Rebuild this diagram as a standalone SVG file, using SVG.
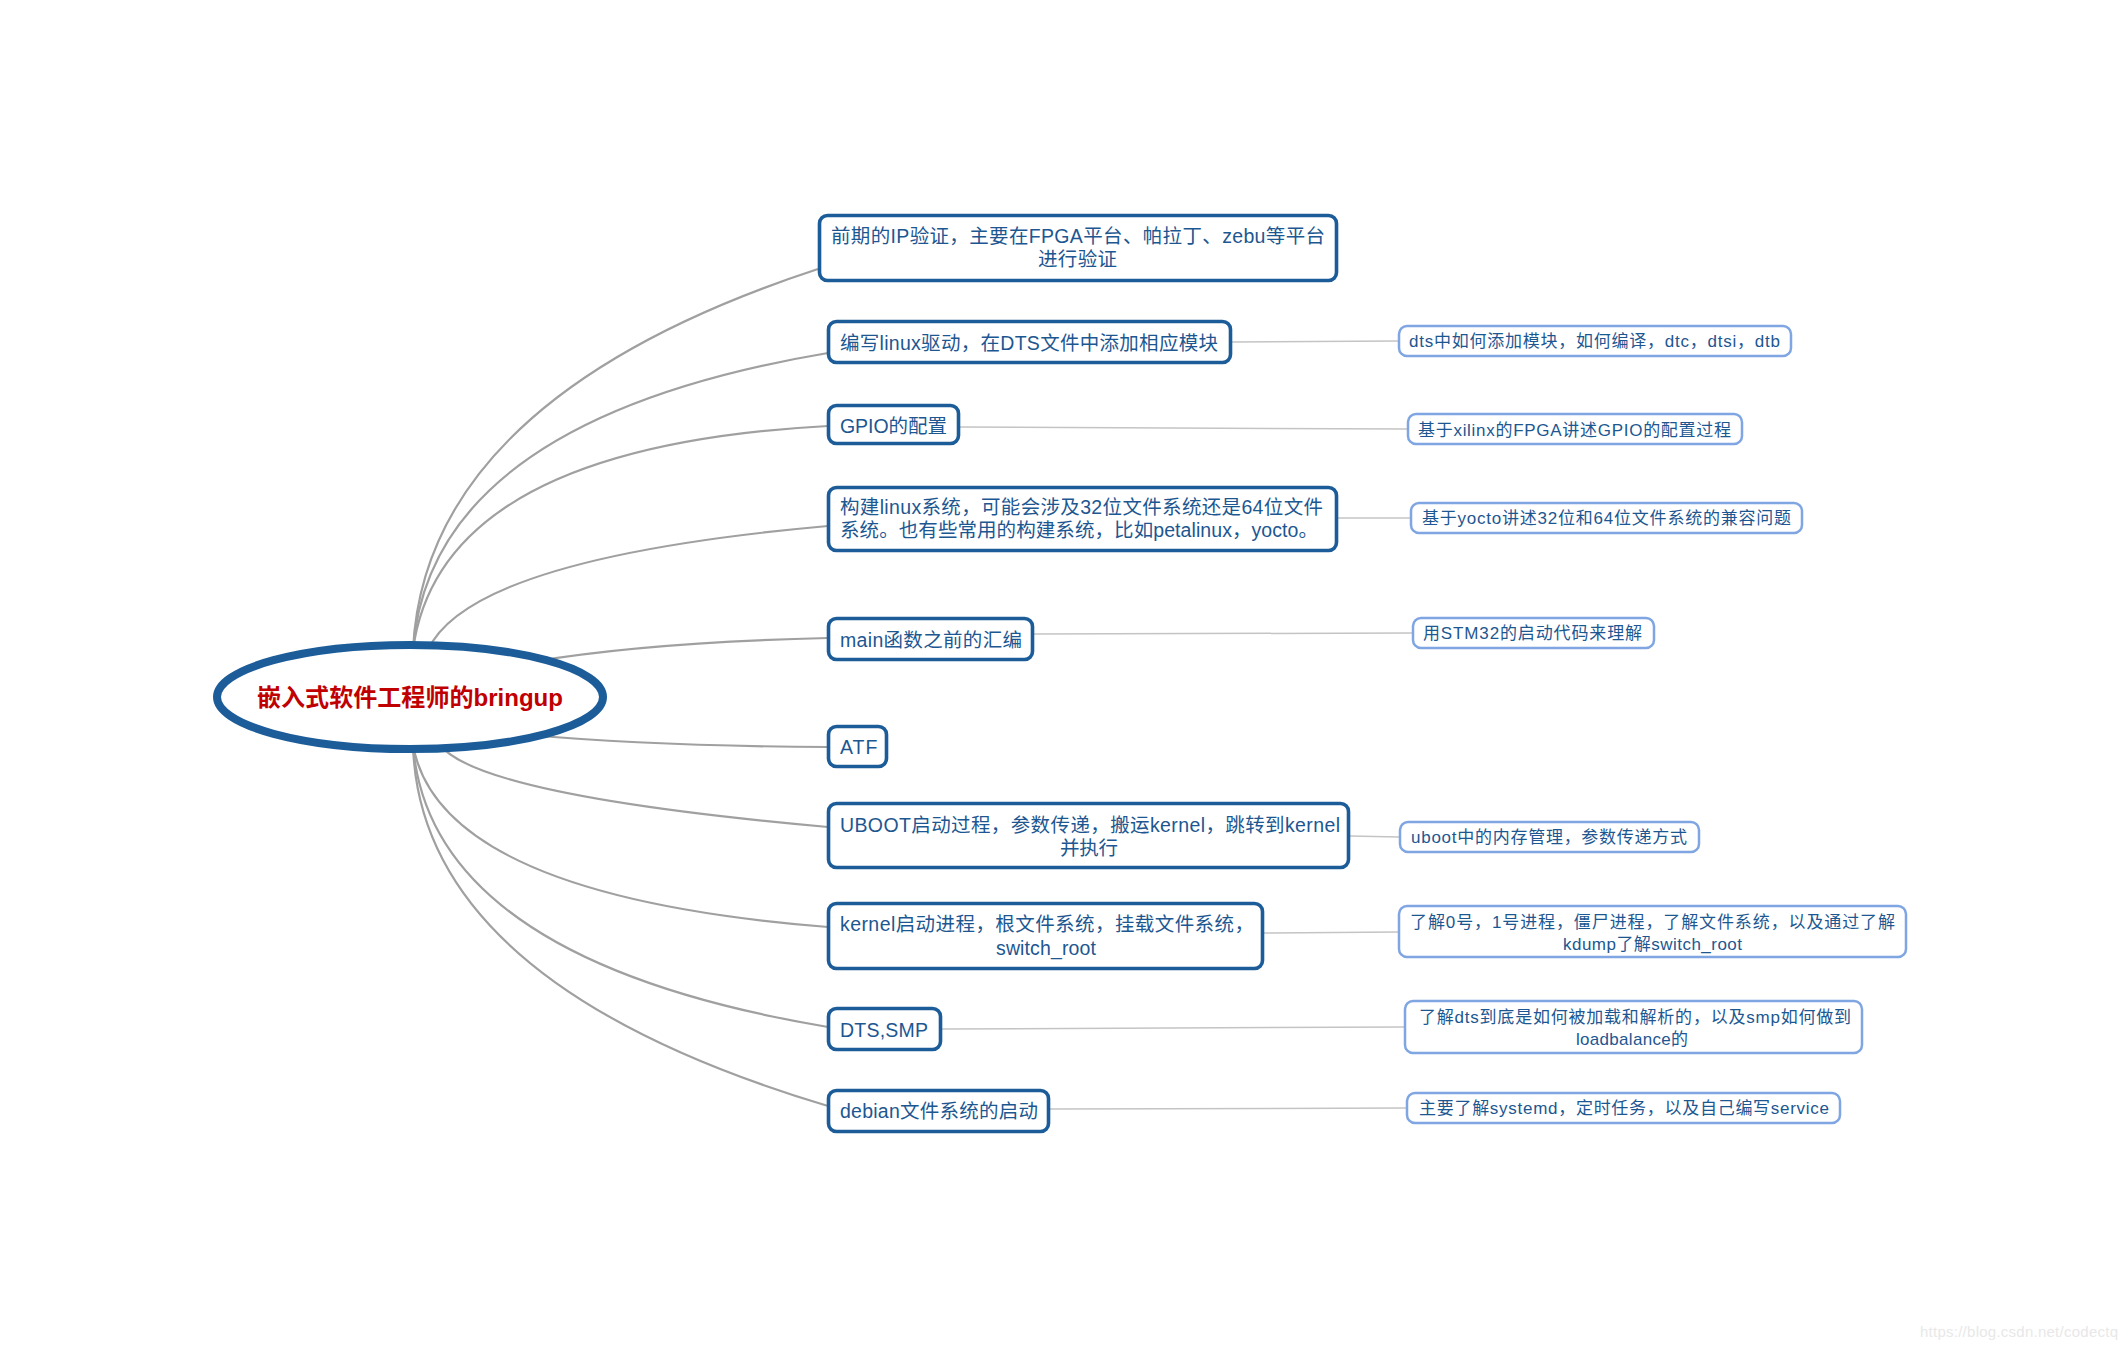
<svg xmlns="http://www.w3.org/2000/svg" width="2128" height="1350" viewBox="0 0 2128 1350">
<style>
.main{fill:#fff;stroke:#1c5d99;stroke-width:3.6}
.sub{fill:#fff;stroke:#7fa5e2;stroke-width:2.5}
.t{font-family:"Liberation Sans","Noto Sans CJK SC",sans-serif;font-size:19.5px;fill:#1d5791}
.s{font-family:"Liberation Sans","Noto Sans CJK SC",sans-serif;font-size:17px;fill:#1d5791}
.c{fill:none;stroke:#a0a0a0;stroke-width:2.2}
.l{fill:none;stroke:#c4c4c4;stroke-width:1.5}
</style>
<rect width="2128" height="1350" fill="#fff"/>
<g id="connectors">
<path class="c" d="M413,650 Q425,398 818,269"/>
<path class="c" d="M413,650 Q430,420 828,353"/>
<path class="c" d="M413,650 Q440,447 828,426"/>
<path class="c" d="M428,650 Q470,558 828,526"/>
<path class="c" d="M530,662 Q650,642 828,638"/>
<path class="c" d="M530,735 Q650,746 828,747"/>
<path class="c" d="M440,745 Q480,796 828,827"/>
<path class="c" d="M413,745 Q440,896 828,927"/>
<path class="c" d="M413,745 Q430,960 828,1027"/>
<path class="c" d="M413,745 Q420,984 828,1106"/>
<path class="l" d="M1232,342 L1398,341"/>
<path class="l" d="M960,427 L1407,429"/>
<path class="l" d="M1338,518 L1410,518"/>
<path class="l" d="M1034,634 L1412,633"/>
<path class="l" d="M1350,836 L1399,837"/>
<path class="l" d="M1264,933 L1398,932"/>
<path class="l" d="M941,1029 L1405,1027"/>
<path class="l" d="M1050,1109 L1407,1108"/>
</g>
<g id="root">
<ellipse cx="410" cy="697" rx="193" ry="52" fill="#fff" stroke="#1c5d99" stroke-width="8"/>
<text x="257" y="706" textLength="306" lengthAdjust="spacingAndGlyphs" style="font-family:'Liberation Sans','Noto Sans CJK SC',sans-serif;font-size:24px;font-weight:bold;fill:#c00000">嵌入式软件工程师的bringup</text>
</g>
<g id="n1"><rect class="main" x="819.5" y="215.5" width="517" height="65" rx="8"/>
<text class="t" x="831" y="243" textLength="494">前期的IP验证，主要在FPGA平台、帕拉丁、zebu等平台</text>
<text class="t" x="1038" y="266" textLength="79">进行验证</text></g>
<g id="n2"><rect class="main" x="828.5" y="321.5" width="402" height="41" rx="8"/>
<text class="t" x="840" y="350" textLength="378">编写linux驱动，在DTS文件中添加相应模块</text></g>
<g id="n3"><rect class="main" x="828.5" y="405.5" width="130" height="38" rx="8"/>
<text class="t" x="840" y="433" textLength="107">GPIO的配置</text></g>
<g id="n4"><rect class="main" x="828.5" y="487.5" width="508" height="63" rx="8"/>
<text class="t" x="840" y="514" textLength="483">构建linux系统，可能会涉及32位文件系统还是64位文件</text>
<text class="t" x="840" y="537" textLength="478">系统。也有些常用的构建系统，比如petalinux，yocto。</text></g>
<g id="n5"><rect class="main" x="828.5" y="618.5" width="204" height="41" rx="8"/>
<text class="t" x="840" y="647" textLength="182">main函数之前的汇编</text></g>
<g id="n6"><rect class="main" x="828.5" y="726.5" width="58" height="40" rx="8"/>
<text class="t" x="840" y="754" textLength="37.5">ATF</text></g>
<g id="n7"><rect class="main" x="828.5" y="803.5" width="520" height="64" rx="8"/>
<text class="t" x="840" y="832" textLength="500">UBOOT启动过程，参数传递，搬运kernel，跳转到kernel</text>
<text class="t" x="1060" y="855" textLength="58">并执行</text></g>
<g id="n8"><rect class="main" x="828.5" y="903.5" width="434" height="65" rx="8"/>
<text class="t" x="840" y="931" textLength="414">kernel启动进程，根文件系统，挂载文件系统，</text>
<text class="t" x="996" y="955" textLength="100">switch_root</text></g>
<g id="n9"><rect class="main" x="828.5" y="1008.5" width="112" height="41" rx="8"/>
<text class="t" x="840" y="1037" textLength="88">DTS,SMP</text></g>
<g id="n10"><rect class="main" x="828.5" y="1090.5" width="220" height="41" rx="8"/>
<text class="t" x="840" y="1118" textLength="198">debian文件系统的启动</text></g>
<g id="s1"><rect class="sub" x="1399" y="326" width="392" height="30" rx="8"/>
<text class="s" x="1409" y="347" textLength="371">dts中如何添加模块，如何编译，dtc，dtsi，dtb</text></g>
<g id="s2"><rect class="sub" x="1408" y="414" width="334" height="30" rx="8"/>
<text class="s" x="1418" y="436" textLength="313">基于xilinx的FPGA讲述GPIO的配置过程</text></g>
<g id="s3"><rect class="sub" x="1411" y="503" width="391" height="30" rx="8"/>
<text class="s" x="1422" y="524" textLength="369">基于yocto讲述32位和64位文件系统的兼容问题</text></g>
<g id="s4"><rect class="sub" x="1413" y="618" width="241" height="30" rx="8"/>
<text class="s" x="1423" y="639" textLength="219">用STM32的启动代码来理解</text></g>
<g id="s5"><rect class="sub" x="1400" y="822" width="299" height="30" rx="8"/>
<text class="s" x="1411" y="843" textLength="276">uboot中的内存管理，参数传递方式</text></g>
<g id="s6"><rect class="sub" x="1399" y="906" width="507" height="51" rx="8"/>
<text class="s" x="1410" y="928" textLength="485">了解0号，1号进程，僵尸进程，了解文件系统，以及通过了解</text>
<text class="s" x="1563" y="950" textLength="179">kdump了解switch_root</text></g>
<g id="s7"><rect class="sub" x="1405" y="1001" width="457" height="52" rx="8"/>
<text class="s" x="1419" y="1023" textLength="432">了解dts到底是如何被加载和解析的，以及smp如何做到</text>
<text class="s" x="1576" y="1045" textLength="112">loadbalance的</text></g>
<g id="s8"><rect class="sub" x="1407" y="1093" width="433" height="30" rx="8"/>
<text class="s" x="1419" y="1114" textLength="410">主要了解systemd，定时任务，以及自己编写service</text></g>
<text x="1920" y="1337" textLength="198" style="font-family:'Liberation Sans',sans-serif;font-size:15px;fill:#e8e8e8">https://blog.csdn.net/codectq</text>
</svg>
